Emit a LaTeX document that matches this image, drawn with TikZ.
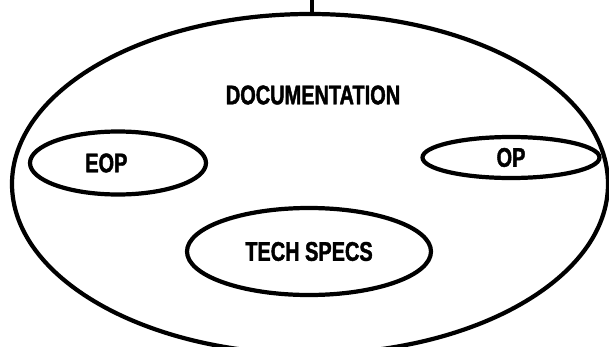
\documentclass[tikz,border=0pt]{standalone}
\usepackage{fontspec}
\usepackage{tikz}
\usetikzlibrary{positioning, arrows.meta, shapes.geometric}
\newfontfamily\tagfont[FakeStretch=0.74, FakeBold=1.6]{Liberation Sans}

\begin{document}
\begin{tikzpicture}[>=Stealth,
  bubble/.style={draw, ellipse, line width=3.6pt, inner sep=0pt},
  tag/.style={font=\tagfont\bfseries\fontsize{23}{25}\selectfont}]

\useasboundingbox (0,0) rectangle (18.27,10.38);

\coordinate (feed) at (9.36,10.38);

\node[bubble, minimum width=17.88cm, minimum height=10.2cm] (doc) at (9.3,4.86) {};
\node[tag] (title) at (9.39,7.53) {DOCUMENTATION};

\node[bubble, minimum width=5.28cm, minimum height=1.89cm,
  label={[tag, xshift=-0.35cm]center:EOP}] (eop) at (3.54,5.49) {};
\node[bubble, tag, minimum width=5.31cm, minimum height=1.23cm] (op) at (15.33,5.655) {OP};
\node[bubble, tag, minimum width=7.32cm, minimum height=2.61cm] (specs) at (9.27,2.835) {TECH SPECS};

\draw[line width=3.6pt] (feed) -- (feed |- doc.north);

\end{tikzpicture}
\end{document}
